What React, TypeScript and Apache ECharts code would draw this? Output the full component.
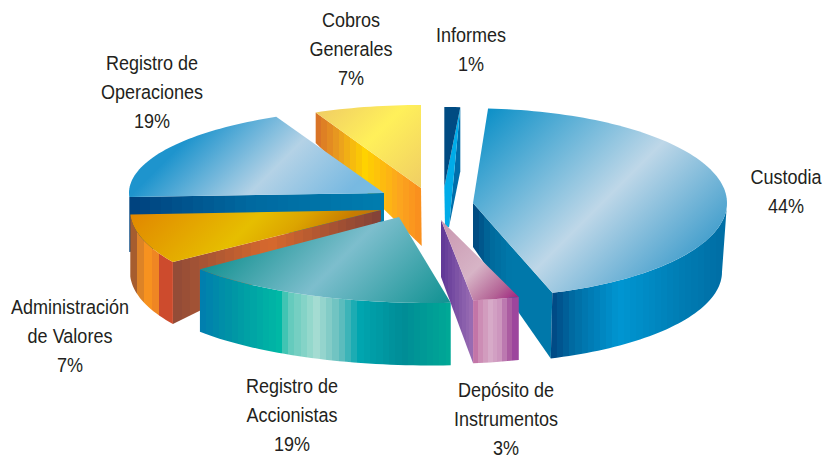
import React, { useEffect, useRef } from "react";
import * as echarts from "echarts";

// ---- data (clockwise from the top) ----
const categories = [
  "Custodia",
  "Depósito de\nInstrumentos",
  "Registro de\nAccionistas",
  "Administración\nde Valores",
  "Registro de\nOperaciones",
  "Cobros\nGenerales",
  "Informes",
];
const values = [44, 3, 19, 7, 19, 7, 1];

// ---- layout ----
const W = 824;
const H = 458;
const START_ANGLE = 3.4;
const LINE_STEP = 29;
const drawOrder = [6, 5, 0, 4, 3, 2, 1];
const labelPos = [
  [786, 191.5],
  [506, 419],
  [292, 415],
  [70, 336],
  [152, 92],
  [351, 49],
  [471, 49.5],
];

type RGB = number[];
type Stops = [number, RGB][];
type Wall = { stops: Stops; bands: number };
type Layout = {
  apex: number[];
  c: number[];
  r: number[];
  bapex: number[];
  bc: number[];
  br: number[];
  adj: number[];
  outerFrom?: number;
  top: Stops;
  outer?: Wall;
  edge?: "start" | "end";
  edgeWall?: Wall;
};

const layouts: Layout[] = [
  {
    apex: [473, 203], c: [473, 203], r: [254, 94.6],
    bapex: [473, 247], bc: [473, 272], br: [249, 91], adj: [0, 0], outerFrom: 90,
    top: [[600, [15, 145, 200]], [805, [190, 215, 232]], [950, [70, 160, 205]]],
    outer: { bands: 28, stops: [[551, [0, 70, 130]], [575, [0, 110, 165]], [620, [0, 150, 210]], [680, [0, 125, 180]], [722, [0, 110, 165]]] },
    edge: "end",
    edgeWall: { bands: 14, stops: [[473, [0, 70, 125]], [490, [0, 105, 155]], [510, [0, 120, 170]], [551, [0, 120, 170]]] },
  },
  {
    apex: [441, 220], c: [441, 220], r: [249, 81],
    bapex: [441, 277], bc: [441, 284], br: [249, 80], adj: [0, 0],
    top: [[661, [200, 150, 175]], [745, [215, 180, 198]], [790, [180, 100, 150]], [814, [160, 40, 130]]],
    outer: { bands: 9, stops: [[473, [190, 105, 160]], [480, [205, 140, 180]], [490, [215, 170, 200]], [500, [205, 150, 190]], [510, [170, 90, 160]], [517, [150, 60, 155]]] },
    edge: "end",
    edgeWall: { bands: 9, stops: [[441, [95, 55, 150]], [473, [155, 110, 180]]] },
  },
  {
    apex: [399, 217], c: [430, 217], r: [290, 86],
    bapex: [399, 280], bc: [430, 279.5], br: [290, 86], adj: [3.3, -8.5],
    top: [[469, [20, 145, 145]], [600, [125, 190, 205]], [754, [15, 145, 145]]],
    outer: { bands: 40, stops: [[200, [0, 125, 175]], [233, [0, 150, 165]], [280, [0, 185, 165]], [287, [90, 200, 185]], [317, [165, 220, 210]], [340, [100, 190, 190]], [360, [0, 165, 175]], [403, [0, 140, 150]], [452, [0, 170, 150]]] },
  },
  {
    apex: [381, 210], c: [381, 210], r: [251, 93],
    bapex: [381, 221], bc: [381, 272], br: [251, 93], adj: [-5, 1],
    top: [[345, [225, 135, 0]], [474, [230, 190, 0]], [520, [220, 165, 0]], [566, [200, 125, 0]], [591, [195, 115, 10]]],
    outer: { bands: 6, stops: [[130, [135, 70, 50]], [137, [195, 115, 45]], [145, [250, 150, 30]], [155, [240, 135, 35]], [160, [205, 75, 45]], [173, [205, 75, 45]]] },
    edge: "start",
    edgeWall: { bands: 24, stops: [[173, [145, 75, 55]], [270, [215, 105, 45]], [381, [130, 65, 55]]] },
  },
  {
    apex: [384, 193], c: [384, 193], r: [255, 84],
    bapex: [384, 222], bc: [384, 248], br: [255, 84], adj: [1, 0.4],
    top: [[326, [30, 148, 205]], [443, [180, 210, 230]], [540, [120, 185, 225]], [577, [120, 190, 225]]],
    edge: "start",
    edgeWall: { bands: 24, stops: [[129, [0, 65, 125]], [250, [0, 105, 160]], [384, [0, 125, 175]]] },
  },
  {
    apex: [421, 188], c: [421, 188], r: [255, 83],
    bapex: [421.7, 246], bc: [421, 218.5], br: [255, 83], adj: [1, 0.2],
    top: [[428, [240, 205, 100]], [510, [255, 240, 90]], [609, [240, 205, 100]]],
    edge: "start",
    edgeWall: { bands: 18, stops: [[315, [215, 110, 40]], [340, [235, 160, 30]], [365, [255, 210, 0]], [400, [252, 165, 30]], [421, [250, 140, 30]]] },
  },
  {
    apex: [444.3, 187], c: [444.3, 187], r: [255, 80],
    bapex: [449, 227], bc: [444.3, 251], br: [255, 80], adj: [0.2, 0.2],
    top: [[500, [0, 75, 130]], [700, [0, 75, 130]]],
  },
];

// ---- helpers ----
const lerp = (a: RGB, b: RGB, t: number) => a.map((v, i) => v + (b[i] - v) * t);
const rgb = (c: RGB) => `rgb(${c.map((v) => Math.round(v)).join(",")})`;

function colorAt(stops: Stops, p: number): RGB {
  if (p <= stops[0][0]) return stops[0][1];
  for (let i = 1; i < stops.length; i++) {
    if (p <= stops[i][0]) {
      const [p0, c0] = stops[i - 1];
      const [p1, c1] = stops[i];
      return lerp(c0, c1, (p - p0) / (p1 - p0));
    }
  }
  return stops[stops.length - 1][1];
}

function bandStops(stops: Stops, bands: number) {
  const a = stops[0][0];
  const b = stops[stops.length - 1][0];
  const out: { offset: number; color: string }[] = [];
  for (let i = 0; i < bands; i++) {
    const col = rgb(colorAt(stops, a + ((i + 0.5) / bands) * (b - a)));
    out.push({ offset: i / bands, color: col }, { offset: (i + 1) / bands, color: col });
  }
  return out;
}

const smoothStops = (stops: Stops) => {
  const a = stops[0][0];
  const b = stops[stops.length - 1][0];
  return stops.map(([p, c]) => ({ offset: (p - a) / (b - a), color: rgb(c) }));
};

// gradient across x (walls)
const wallFill = (w: Wall) =>
  new echarts.graphic.LinearGradient(w.stops[0][0], 0, w.stops[w.stops.length - 1][0], 0, bandStops(w.stops, w.bands), true);

// 45-degree gradient whose stops are positions along x + y (tops)
const topFill = (s: Stops) => {
  const a = s[0][0] / 2;
  const b = s[s.length - 1][0] / 2;
  return new echarts.graphic.LinearGradient(a, a, b, b, smoothStops(s), true);
};

const pt = (c: number[], r: number[], deg: number) => {
  const t = (deg * Math.PI) / 180;
  return [c[0] + r[0] * Math.sin(t), c[1] - r[1] * Math.cos(t)];
};
const arc = (c: number[], r: number[], a0: number, a1: number) => {
  const n = Math.max(2, Math.ceil(Math.abs(a1 - a0) / 1.5));
  const out: number[][] = [];
  for (let i = 0; i <= n; i++) out.push(pt(c, r, a0 + ((a1 - a0) * i) / n));
  return out;
};
const poly = (points: number[][], fill: any) => ({
  type: "polygon",
  silent: true,
  shape: { points },
  style: { fill, stroke: null },
});

const total = values.reduce((a, b) => a + b, 0);
const angles: number[][] = [];
{
  let acc = 0;
  values.forEach((v) => {
    angles.push([START_ANGLE + (acc / total) * 360, START_ANGLE + ((acc + v) / total) * 360]);
    acc += v;
  });
}

function renderSlice(_: any, api: any) {
  const idx = api.value(0);
  const L = layouts[idx];
  const a0 = angles[idx][0] + L.adj[0];
  const a1 = angles[idx][1] + L.adj[1];
  const children: any[] = [];

  if (L.edge && L.edgeWall) {
    const e = L.edge === "start" ? a0 : a1;
    children.push(poly([L.apex, pt(L.c, L.r, e), pt(L.bc, L.br, e), L.bapex], wallFill(L.edgeWall)));
  }
  if (L.outer) {
    const from = Math.max(a0, L.outerFrom ?? a0);
    children.push(poly([...arc(L.c, L.r, from, a1), ...arc(L.bc, L.br, a1, from)], wallFill(L.outer)));
  }
  if (idx === values.length - 1) {
    // the thinnest slice shows its two walls from the front
    const endT = pt(L.c, L.r, a1);
    const endB = pt(L.bc, L.br, a1);
    children.push(poly([endT, endB, L.bapex], "rgb(0,110,170)"));
    children.push(poly([L.apex, endT, L.bapex, [L.apex[0] + 0.7, L.bapex[1]]], "rgb(0,172,232)"));
  }
  children.push(poly([L.apex, ...arc(L.c, L.r, a0, a1)], topFill(L.top)));
  return { type: "group", children };
}

function labelTexts() {
  const out: any[] = [];
  categories.forEach((name, i) => {
    const lines = [...name.split("\n"), `${values[i]}%`];
    const y0 = labelPos[i][1] - ((lines.length - 1) * LINE_STEP) / 2;
    lines.forEach((line, k) => {
      out.push({
        type: "text",
        x: labelPos[i][0],
        y: y0 + k * LINE_STEP,
        scaleX: 0.925,
        silent: true,
        style: {
          text: line,
          align: "center",
          verticalAlign: "middle",
          fontFamily: "Liberation Sans",
          fontSize: 19.5,
          lineHeight: 20,
          fill: "#231f20",
        },
      });
    });
  });
  return out;
}

export default function App() {
  const ref = useRef<HTMLDivElement>(null);
  useEffect(() => {
    const chart = echarts.init(ref.current!, null, { renderer: "svg" });
    chart.setOption({
      animation: false,
      backgroundColor: "#ffffff",
      graphic: labelTexts(),
      series: [
        {
          type: "custom",
          coordinateSystem: "none",
          silent: true,
          data: drawOrder.map((i) => [i]),
          renderItem: renderSlice,
        },
      ],
    });
    return () => chart.dispose();
  }, []);
  return <div ref={ref} style={{ position: "absolute", left: 0, top: 0, width: W, height: H }} />;
}
